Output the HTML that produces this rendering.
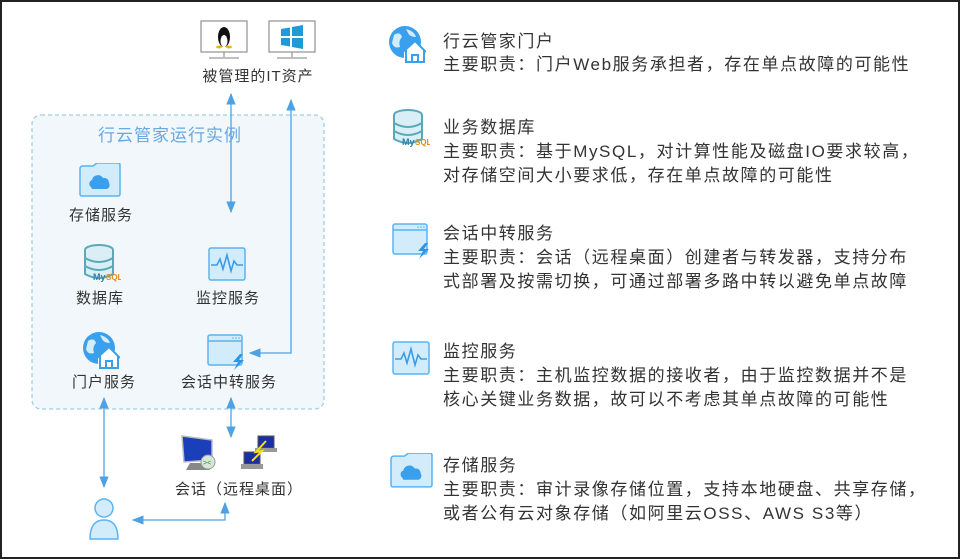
<!DOCTYPE html>
<html><head><meta charset="utf-8"><style>
body{margin:0;width:960px;height:559px;background:#fff;overflow:hidden;font-family:"Liberation Sans","Noto Sans CJK SC",sans-serif;}
.f{position:absolute;left:0;top:0;width:956px;height:555px;border:2px solid #222;}
.t{position:absolute;white-space:nowrap;color:#333;}
.l{font-size:15px;letter-spacing:1px;transform:translateX(-50%);}
.r{font-size:17px;letter-spacing:1.6px;left:443px;line-height:23px;}
</style></head><body>
<div class="f"></div>
<svg width="960" height="559" style="position:absolute;left:0;top:0">
<defs>
<symbol id="folder" viewBox="0 0 42 34"><path d="M1 6 Q1 3 4 3 H14 L18 0 H39 Q41 0 41 2 V31 Q41 33 39 33 H3 Q1 33 1 31Z" fill="#d3ecfc" stroke="#5bb4f0" stroke-width="1.5"/><path d="M12 24 a4 4 0 0 1 1-7 a6 6 0 0 1 11-2 a5 5 0 0 1 6 5 a4 4 0 0 1-2 6 H13Z" fill="#3aa0ee"/></symbol>
<symbol id="db" viewBox="0 0 38 38"><ellipse cx="16" cy="6" rx="14" ry="5" fill="#d9eef5" stroke="#5aa9b8" stroke-width="2"/><path d="M2 6 V30 Q16 38 30 30 V6" fill="#d9eef5" stroke="#5aa9b8" stroke-width="2"/><path d="M2 14 Q16 22 30 14 M2 22 Q16 30 30 22" fill="none" stroke="#5aa9b8" stroke-width="2"/><text x="10" y="36" font-size="9" font-weight="bold" fill="#2a7fb0" font-family="Liberation Sans">My</text><text x="23" y="36" font-size="8" font-weight="bold" fill="#e08a20" font-family="Liberation Sans">SQL</text></symbol>
<symbol id="mon" viewBox="0 0 38 34"><rect x="1" y="1" width="36" height="32" rx="2" fill="#d3ecfc" stroke="#5bb4f0" stroke-width="1.5"/><path d="M3 18 H9 L12 12 L15 22 L19 8 L23 24 L26 14 L29 18 H35" fill="none" stroke="#3a9de8" stroke-width="1.6"/></symbol>
<symbol id="win" viewBox="0 0 38 36"><rect x="1" y="1" width="34" height="30" rx="2" fill="#d3ecfc" stroke="#5bb4f0" stroke-width="1.5"/><line x1="1" y1="7" x2="35" y2="7" stroke="#5bb4f0" stroke-width="1.5"/><circle cx="26" cy="4" r=".8" fill="#5bb4f0"/><circle cx="29" cy="4" r=".8" fill="#5bb4f0"/><circle cx="32" cy="4" r=".8" fill="#5bb4f0"/><path d="M33 20 L26 28 H31 L27 36 L37 26 H32 L36 20Z" fill="#2f95e6"/></symbol>
<symbol id="globe" viewBox="0 0 38 38"><circle cx="17" cy="17" r="16" fill="#3aa0ee"/><path d="M6 10 Q12 6 14 12 Q10 16 12 22 Q6 24 4 18Z M18 4 Q26 6 28 12 Q22 12 20 8Z" fill="#d3ecfc"/><path d="M16 26 L27 16 L38 26 V37 H16Z" fill="#fff"/><path d="M15 27 L27 16 L38 27 M18 25 V37 H36 V25 M24 37 V30 H30 V37" fill="none" stroke="#3aa0ee" stroke-width="2"/></symbol>
<marker id="a" viewBox="0 0 10 10" refX="9" refY="5" markerWidth="9" markerHeight="9" orient="auto-start-reverse"><path d="M0 1 L10 5 L0 9Z" fill="#4ea2e4"/></marker>
</defs>
<rect x="32" y="115" width="292" height="294" rx="9" fill="#f1f7fa" stroke="#9dd0e4" stroke-width="1.3" stroke-dasharray="4 3"/>
<g fill="#fff" stroke="#999" stroke-width="1.3"><rect x="201" y="21" width="46" height="31"/><rect x="269" y="21" width="46" height="31"/></g>
<g stroke="#999" stroke-width="1.3"><line x1="224" y1="52" x2="224" y2="57"/><line x1="209" y1="58" x2="239" y2="58"/><line x1="292" y1="52" x2="292" y2="57"/><line x1="277" y1="58" x2="307" y2="58"/></g>
<ellipse cx="224" cy="37" rx="6" ry="10" fill="#111"/><ellipse cx="224" cy="41" rx="3.5" ry="6" fill="#fff"/><ellipse cx="219" cy="47" rx="3" ry="1.5" fill="#f2b400"/><ellipse cx="229" cy="47" rx="3" ry="1.5" fill="#f2b400"/>
<g fill="#1e9ad6"><path d="M281 29 L290 27.5 V36 H281Z"/><path d="M292 27 L303 25 V36 H292Z"/><path d="M281 38 H290 V46.5 L281 45Z"/><path d="M292 38 H303 V49 L292 47Z"/></g>
<g stroke="#4ea2e4" stroke-width="1.3" fill="none">
<line x1="231" y1="94" x2="231" y2="212" marker-start="url(#a)" marker-end="url(#a)"/>
<polyline points="291,100 291,353 250,353" marker-start="url(#a)" marker-end="url(#a)"/>
<line x1="104" y1="398" x2="104" y2="487" marker-start="url(#a)" marker-end="url(#a)"/>
<line x1="231" y1="398" x2="231" y2="437" marker-start="url(#a)" marker-end="url(#a)"/>
<polyline points="133,520 225,520 225,503" marker-start="url(#a)" marker-end="url(#a)"/>
</g>
<use href="#folder" x="79" y="163" width="42" height="34"/>
<use href="#db" x="83" y="244" width="38" height="38"/>
<use href="#mon" x="208" y="247" width="38" height="34"/>
<use href="#globe" x="82" y="331" width="38" height="38"/>
<use href="#win" x="207" y="334" width="38" height="36"/>
<path d="M182 436 L212 440 V460 L184 462Z" fill="#1a3fb8" stroke="#bbb" stroke-width="1.5"/><path d="M190 463 L206 463 L210 470 H186Z" fill="#888"/><circle cx="208" cy="462" r="7" fill="#d8e8d8" stroke="#999"/><text x="203" y="465" font-size="7" fill="#2a8a3a" font-family="Liberation Sans">&gt;&lt;</text>
<rect x="258" y="436" width="16" height="12" fill="#1a2fa0" stroke="#555"/><rect x="255" y="448" width="22" height="4" fill="#999"/>
<rect x="244" y="452" width="16" height="12" fill="#1a2fa0" stroke="#555"/><rect x="241" y="464" width="22" height="5" fill="#999"/>
<path d="M266 441 L256 452 L262 451 L252 461" fill="none" stroke="#ffe000" stroke-width="2"/>
<circle cx="104" cy="508" r="9" fill="#d3ecfc" stroke="#5bb4f0" stroke-width="1.5"/><path d="M90 539 Q90 520 104 520 Q118 520 118 539Z" fill="#d3ecfc" stroke="#5bb4f0" stroke-width="1.5"/>
<use href="#globe" x="388" y="25" width="38" height="38"/>
<use href="#db" x="392" y="109" width="38" height="38"/>
<use href="#win" x="392" y="223" width="38" height="36"/>
<use href="#mon" x="392" y="341" width="38" height="34"/>
<use href="#folder" x="390" y="453" width="43" height="35"/>
</svg>
<div class="t l" style="left:258px;top:65px">被管理的IT资产</div>
<div class="t l" style="left:170px;top:121px;font-size:17px;color:#6aa8e0">行云管家运行实例</div>
<div class="t l" style="left:101px;top:204px">存储服务</div>
<div class="t l" style="left:100px;top:287px">数据库</div>
<div class="t l" style="left:228px;top:287px">监控服务</div>
<div class="t l" style="left:104px;top:371px">门户服务</div>
<div class="t l" style="left:229px;top:371px">会话中转服务</div>
<div class="t l" style="left:239px;top:478px">会话（远程桌面）</div>
<div class="t r" style="top:30px">行云管家门户<br>主要职责：门户Web服务承担者，存在单点故障的可能性</div>
<div class="t r" style="top:116px;line-height:24px">业务数据库<br>主要职责：基于MySQL，对计算性能及磁盘IO要求较高，<br>对存储空间大小要求低，存在单点故障的可能性</div>
<div class="t r" style="top:222px;line-height:24px">会话中转服务<br>主要职责：会话（远程桌面）创建者与转发器，支持分布<br>式部署及按需切换，可通过部署多路中转以避免单点故障</div>
<div class="t r" style="top:340px;line-height:24px">监控服务<br>主要职责：主机监控数据的接收者，由于监控数据并不是<br>核心关键业务数据，故可以不考虑其单点故障的可能性</div>
<div class="t r" style="top:454px;line-height:24px">存储服务<br>主要职责：审计录像存储位置，支持本地硬盘、共享存储，<br>或者公有云对象存储（如阿里云OSS、AWS S3等）</div>
</body></html>
